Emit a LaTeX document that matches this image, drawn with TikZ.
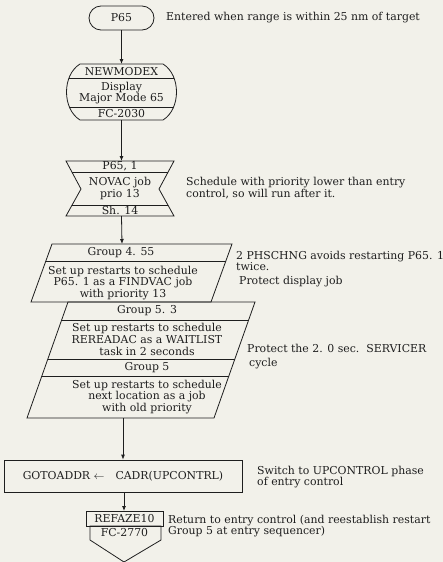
\documentclass[tikz,border=0pt]{standalone}
\usepackage{fontspec}
\setmainfont{DejaVu Serif}
\usetikzlibrary{arrows.meta}
\definecolor{paper}{RGB}{242,241,234}
\definecolor{ink}{RGB}{30,30,30}
\begin{document}
\begin{tikzpicture}[x=1pt,y=-1pt,
  every node/.style={font=\fontsize{10.9}{11.8}\selectfont, text=ink, inner sep=0pt},
  outline/.style={draw=ink, line width=0.8pt},
  flow/.style={draw=ink, line width=0.8pt, -{Latex[length=5pt,width=4pt]}},
  note/.style={anchor=west, align=left},
  boxtext/.style={align=center}]
\fill[paper] (0,0) rectangle (443,562);
\useasboundingbox (0,0) rectangle (443,562);

% entry terminal
\node[outline, rounded corners=12pt, minimum width=65pt, minimum height=24pt] (p65) at (121.5,18) {P65};
\node[note] (n-entered) at (166,18) {Entered when range is within 25 nm of target};

% display subroutine call
\def\dispshape{(80,64) -- (163,64) .. controls (181,75) and (181,109) .. (163,120) -- (80,120) .. controls (62,109) and (62,75) .. (80,64) -- cycle}
\draw[outline] \dispshape;
\begin{scope}
  \clip \dispshape;
  \draw[outline] (50,78) -- (200,78) (50,107) -- (200,107);
\end{scope}
\coordinate (nm-top) at (121.5,64);
\coordinate (nm-bot) at (121.5,120);
\node (nm-name) at (121.5,71.5) {NEWMODEX};
\node[boxtext] (nm-body) at (121.5,93) {Display\\Major Mode 65};
\node (nm-ref) at (121.5,114) {FC-2030};

% job scheduling
\def\jobshape{(66,161) -- (174,161) -- (159,189) -- (174,216) -- (66,216) -- (81,189) -- cycle}
\draw[outline] \jobshape;
\begin{scope}
  \clip \jobshape;
  \draw[outline] (50,172) -- (200,172) (50,205) -- (200,205);
\end{scope}
\coordinate (job-top) at (121.5,161);
\coordinate (job-bot) at (121.5,216);
\node (job-tag) at (120,166.5) {P65, 1};
\node[boxtext] (job-body) at (120,188.5) {NOVAC job\\prio 13};
\node (job-sheet) at (120,210.5) {Sh. 14};
\node[note] (n-sched) at (186,188) {Schedule with priority lower than entry\\control, so will run after it.};

% restart group 4.55
\def\grpA{(52,244) -- (232,244) -- (211,302) -- (31,302) -- cycle}
\draw[outline] \grpA;
\begin{scope}
  \clip \grpA;
  \draw[outline] (0,261) -- (300,261);
\end{scope}
\coordinate (ga-top) at (122,244);
\node (ga-name) at (121,252.5) {Group 4. 55};
\node[boxtext] (ga-body) at (123,283) {Set up restarts to schedule\\P65. 1 as a FINDVAC job\\with priority 13};
\node[note] (n-phschng) at (236,261) {2 PHSCHNG avoids restarting P65. 1\\twice.};
\node[note] (n-protect) at (239,282) {Protect display job};

% restart groups 5.3 and 5
\def\grpB{(68,302) -- (255,302) -- (214,418) -- (27,418) -- cycle}
\draw[outline] \grpB;
\begin{scope}
  \clip \grpB;
  \draw[outline] (0,320) -- (300,320) (0,359) -- (300,359) (0,376) -- (300,376);
\end{scope}
\coordinate (gb-bot) at (123,418);
\node (gb-name) at (147,311) {Group 5. 3};
\node[boxtext] (gb-body) at (147,339.5) {Set up restarts to schedule\\REREADAC as a WAITLIST\\task in 2 seconds};
\node (gc-name) at (147,367.5) {Group 5};
\node[boxtext] (gc-body) at (147,397) {Set up restarts to schedule\\next location as a job\\with old priority};
\node[note] (n-servicer) at (247,348) {Protect the 2. 0 sec.\ \ SERVICER};
\node[note] (n-cycle) at (249,364) {cycle};

% phase switch
\node[outline, minimum width=238pt, minimum height=32pt] (goto) at (123,476) {GOTOADDR\ $\leftarrow$\quad CADR(UPCONTRL)};
\node[note] (n-switch) at (257,477) {Switch to UPCONTROL phase\\of entry control};

% exit connector
\draw[outline] (86,511) rectangle (163,526);
\draw[outline] (90,526) -- (161,526) -- (161,540) -- (124,562) -- (90,540) -- cycle;
\coordinate (ex-top) at (124,511);
\node (ex-name) at (124.5,518.5) {REFAZE10};
\node (ex-ref) at (124.5,533) {FC-2770};
\node[note] (n-return) at (168,526) {Return to entry control (and reestablish restart\\Group 5 at entry sequencer)};

% flow lines
\draw[flow] (p65.south) -- (nm-top);
\draw[flow] (nm-bot) -- (job-top);
\draw[flow] (job-bot) -- (ga-top);
\draw[flow] (gb-bot) -- (goto.north -| gb-bot);
\draw[flow] (goto.south -| ex-top) -- (ex-top);
\end{tikzpicture}
\end{document}
